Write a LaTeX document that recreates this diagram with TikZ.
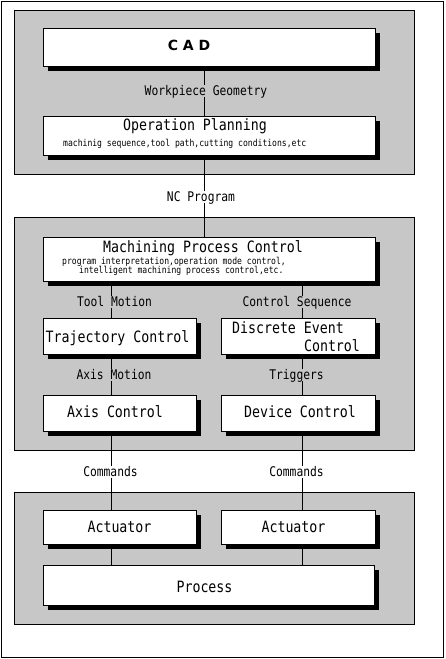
\documentclass[tikz,border=0pt]{standalone}
\usepackage{fontspec}
\usetikzlibrary{shadows}
\newfontfamily\gothic[FakeStretch=0.85]{DejaVu Sans Mono}
\newfontfamily\cadfont{DejaVu Sans}
\tikzset{
  panel/.style={draw=black, line width=1pt, fill=black!22},
  box/.style={draw=black, line width=1pt, fill=white, inner sep=0pt, anchor=north west,
    drop shadow={shadow xshift=5pt, shadow yshift=-5pt, fill=black, opacity=1}},
  title/.style={font=\gothic\fontsize{15.6}{17}\selectfont, inner sep=0pt, text height=11.4pt, text depth=0pt},
  lbl/.style={font=\gothic\fontsize{13.3}{15}\selectfont, inner sep=0.8pt, text height=9.7pt, text depth=0pt},
  small/.style={font=\gothic\fontsize{9.5}{10}\selectfont, inner sep=0pt},
  conn/.style={draw=black, line width=1pt}
}
\begin{document}
\begin{tikzpicture}[x=1pt,y=-1pt]
\useasboundingbox (0,0) rectangle (445,659);
\fill[white] (0,0) rectangle (445,659);
\draw[line width=1pt] (1.5,1.5) rectangle (443.5,657.5);
% panels
\draw[panel] (14.5,10.5) rectangle (414.5,174.5);
\draw[panel] (14.5,217.5) rectangle (414.5,450.5);
\draw[panel] (14.5,492.5) rectangle (414.5,624.5);
% columns
\coordinate (cM) at (204.5,0);
\coordinate (cL) at (111.5,0);
\coordinate (cR) at (302.5,0);
% boxes
\node[box, minimum width=332, minimum height=38] (cad) at (42.5,27.5) {};
\node[box, minimum width=332, minimum height=39] (op) at (42.5,115.5) {};
\node[box, minimum width=332, minimum height=44] (mpc) at (42.5,236.5) {};
\node[box, minimum width=153, minimum height=36] (traj) at (42.5,317.5) {};
\node[box, minimum width=154, minimum height=36] (dec) at (220.5,317.5) {};
\node[box, minimum width=153, minimum height=36] (axis) at (42.5,394.5) {};
\node[box, minimum width=154, minimum height=36] (dev) at (220.5,394.5) {};
\node[box, minimum width=153, minimum height=34] (act1) at (42.5,509.5) {};
\node[box, minimum width=154, minimum height=34] (act2) at (220.5,509.5) {};
\node[box, minimum width=331, minimum height=40] (proc) at (42.5,564.5) {};
% box texts
\node[font=\cadfont\bfseries\fontsize{14}{16}\selectfont, inner sep=0pt, text height=10.2pt, text depth=0pt] (cadt) at (189,45) {C A D};
\node[title] (opt) at (195,125) {Operation Planning};
\node[small, anchor=base west] (ops) at (63,146) {machinig sequence,tool path,cutting conditions,etc};
\node[title] (mpct) at (203,247) {Machining Process Control};
\node[small, anchor=base west] (mpcs1) at (62,264) {program interpretation,operation mode control,};
\node[small, anchor=base west] (mpcs2) at (79,273) {intelligent machining process control,etc.};
\node[title] (trajt) at (117.5,337) {Trajectory Control};
\node[title] (dect1) at (288,328) {Discrete Event};
\node[title] (dect2) at (332,346) {Control};
\node[title] (axist) at (115,412) {Axis Control};
\node[title] (devt) at (300,412) {Device Control};
\node[title] (act1t) at (119.5,527) {Actuator};
\node[title] (act2t) at (293.5,527) {Actuator};
\node[title] (proct) at (204.5,587) {Process};
% connector labels
\node[lbl] (wg) at (206,91) {Workpiece Geometry};
\node[lbl] (nc) at (201,197) {NC Program};
\node[lbl] (tm) at (114.5,302) {Tool Motion};
\node[lbl] (cs) at (297,302) {Control Sequence};
\node[lbl] (am) at (114,375) {Axis Motion};
\node[lbl] (tr) at (296.5,375) {Triggers};
\node[lbl] (cmd1) at (110.5,472) {Commands};
\node[lbl] (cmd2) at (296.5,472) {Commands};
% connectors
\draw[conn] (cad.south -| cM) -- (wg.north -| cM);
\draw[conn] (wg.south -| cM) -- (op.north -| cM);
\draw[conn] (op.south -| cM) -- (nc.north -| cM);
\draw[conn] (nc.south -| cM) -- (mpc.north -| cM);
\draw[conn] (mpc.south -| cL) -- (tm.north -| cL);
\draw[conn] (tm.south -| cL) -- (traj.north -| cL);
\draw[conn] (traj.south -| cL) -- (am.north -| cL);
\draw[conn] (am.south -| cL) -- (axis.north -| cL);
\draw[conn] (axis.south -| cL) -- (cmd1.north -| cL);
\draw[conn] (cmd1.south -| cL) -- (act1.north -| cL);
\draw[conn] (act1.south -| cL) -- (proc.north -| cL);
\draw[conn] (mpc.south -| cR) -- (cs.north -| cR);
\draw[conn] (cs.south -| cR) -- (dec.north -| cR);
\draw[conn] (dec.south -| cR) -- (tr.north -| cR);
\draw[conn] (tr.south -| cR) -- (dev.north -| cR);
\draw[conn] (dev.south -| cR) -- (cmd2.north -| cR);
\draw[conn] (cmd2.south -| cR) -- (act2.north -| cR);
\draw[conn] (act2.south -| cR) -- (proc.north -| cR);
\end{tikzpicture}
\end{document}
